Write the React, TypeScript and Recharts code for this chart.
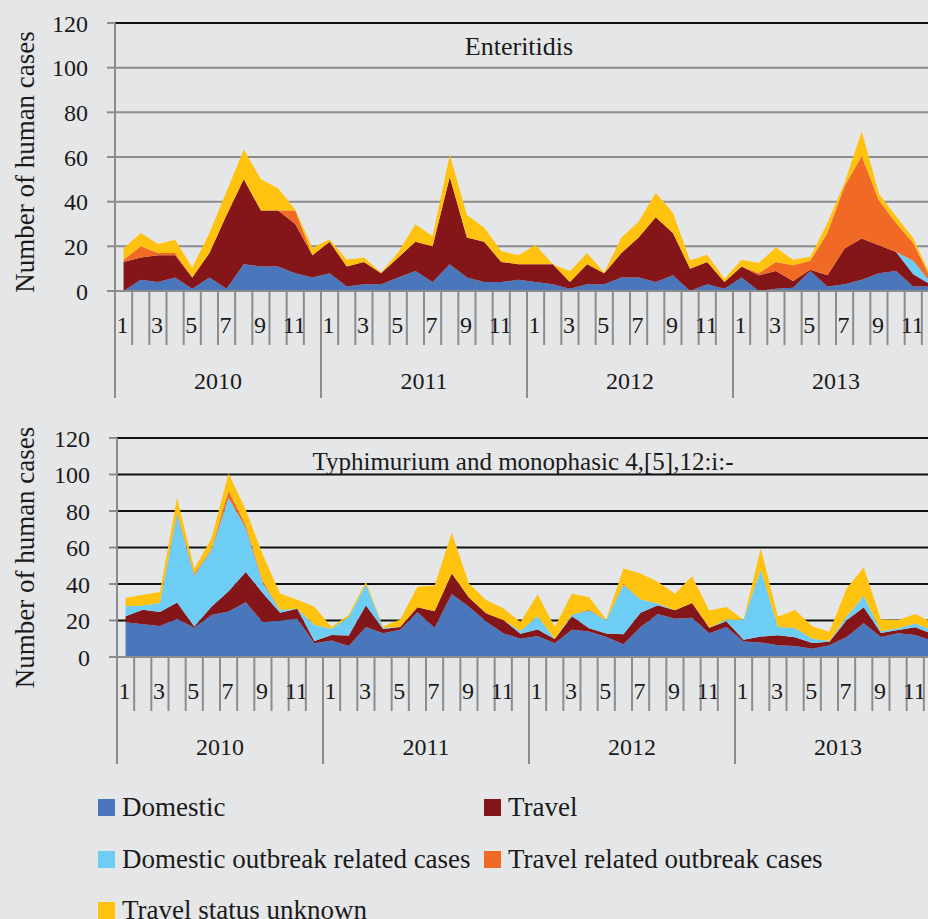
import React from "react";
import {
  AreaChart,
  Area,
  XAxis,
  YAxis,
  CartesianGrid,
  ReferenceLine,
} from "recharts";

const YEARS = [2010, 2011, 2012, 2013];
const MONTHS = [1, 2, 3, 4, 5, 6, 7, 8, 9, 10, 11, 12];
const Y_TICKS = [0, 20, 40, 60, 80, 100, 120];

// Enteritidis, Jan 2010 - Dec 2013
const ENT_DOMESTIC = [
  0, 5, 4, 6, 1, 6, 1, 12, 11, 11, 8, 6,
  8, 2, 3, 3, 6, 9, 4, 12, 6, 4, 4, 5,
  4, 3, 1, 3, 3, 6, 6, 4, 7, 0, 3, 1,
  6, 0, 1, 1.5, 9, 2, 3, 5, 8, 9, 2, 2,
];
const ENT_TRAVEL = [
  13, 10, 12, 10, 5, 11, 33, 38, 25, 25, 22, 10,
  14, 9, 10, 5, 9, 13, 16, 39, 18, 18, 9, 7,
  8, 9, 3, 9, 5, 11, 18, 29, 19, 10, 10, 3,
  5, 7, 8, 3, 0.5, 5, 16, 18.5, 12.5, 8.5, 5.5, 1,
];
const ENT_DOM_OUTBREAK = [
  0, 0, 0, 0, 0, 0, 0, 0, 0, 0, 0, 0,
  0, 0, 0, 0, 0, 0, 0, 0, 0, 0, 0, 0,
  0, 0, 0, 0, 0, 0, 0, 0, 0, 0, 0, 0,
  0, 0, 0, 0, 0, 0, 0, 0, 0, 0, 6, 1,
];
const ENT_TRAVEL_OUTBREAK = [
  1, 5, 1, 1, 0, 0, 0, 0, 0, 0, 6, 0,
  0, 0, 0, 0, 0, 0, 0, 0, 0, 0, 0, 0,
  0, 0, 0, 0, 0, 0, 0, 0, 0, 0, 0, 0,
  0, 1, 4, 7, 4, 19, 28, 37, 20, 13, 8, 2,
];
const ENT_UNKNOWN = [
  5, 6, 4, 6, 4.5, 9, 10.5, 13.4, 14, 10, 0.5, 3.3,
  1.2, 3, 2, 0.3, 2.3, 7.9, 4.5, 10, 10, 6.4, 4.9, 4,
  8.6, 0, 4.8, 5, 0.3, 7, 7, 11, 9, 3.7, 3.2, 1.5,
  3, 4.5, 6.5, 2.5, 1.8, 4.5, 1.5, 11, 3, 3, 2.2, 1,
];

// Typhimurium and monophasic 4,[5],12:i:-
const TYP_DOMESTIC = [
  19, 18, 17, 21, 16, 23, 25, 30, 19, 20, 21, 7.5,
  9, 6, 16.5, 13, 15, 24.5, 16, 34.5, 27.5, 19.5, 13, 10,
  11.5, 7.5, 15, 14, 11, 7, 16.5, 23.5, 21, 21.5, 13, 16.5,
  8.5, 8, 6.5, 6, 4.5, 6.5, 11, 18.5, 11, 13, 12, 9,
];
const TYP_TRAVEL = [
  3.3, 7.9, 7.6, 8.8, 0.7, 4.6, 11, 16.6, 15.9, 4.2, 5.5, 1.3,
  3, 5.8, 11.9, 2.4, 1.5, 2.7, 9.1, 11.3, 5.1, 4.5, 7.3, 2.8,
  3.6, 2.4, 7.3, 1.8, 1.9, 5.5, 7.7, 4.9, 4.6, 8.1, 3, 3.1,
  0.9, 3.2, 5.4, 4.8, 3.2, 1.8, 9.2, 8.8, 2.2, 1.8, 4.3, 3.6,
];
const TYP_DOM_OUTBREAK = [
  5.5, 2.3, 5, 48.4, 27.9, 31, 51.1, 24.1, 5.5, 1.5, 0, 8.7,
  3.5, 10.1, 11.5, 0.6, 0, 0, 0, 0, 0, 0, 0, 1.5,
  7.2, 0, 0.9, 9.7, 7.3, 26.9, 7.3, 0.9, 0, 0, 0, 0.9,
  11, 36.6, 4.6, 4.9, 2.3, 0.5, 1.8, 6.2, 0.9, 1, 2.1, 2,
];
const TYP_TRAVEL_OUTBREAK = [
  0, 0, 0, 1, 1, 0.5, 4, 1.5, 1, 0, 0, 0,
  0, 0, 0, 0, 0, 0, 0, 0, 0, 0, 0, 0,
  0, 0, 0, 0.5, 0, 0.5, 0, 0, 0, 0, 0, 0,
  0, 0, 0, 0.3, 0, 0, 0, 0, 0, 0, 0, 0,
];
const TYP_UNKNOWN = [
  4.5, 5.9, 6, 8.1, 2.7, 5.9, 9.4, 8.5, 14.5, 9.1, 4.9, 10.1,
  1, 1.3, 1.3, 0.7, 4, 11.3, 14.1, 22.3, 7.7, 7.3, 6.4, 4.9,
  12, 6.7, 11.5, 6.8, 0.3, 8.6, 14.2, 11.9, 9.1, 14.6, 9.5, 6.9,
  0, 11.8, 5.5, 9.8, 6.8, 5, 15.5, 15.7, 6.4, 4.5, 5.2, 4.3,
];

const SERIES = [
  { key: "dom", name: "Domestic", color: "#4a77bb" },
  { key: "travel", name: "Travel", color: "#84161a" },
  { key: "domOut", name: "Domestic outbreak related cases", color: "#6dcdf4" },
  { key: "travOut", name: "Travel related outbreak cases", color: "#f06a25" },
  { key: "unknown", name: "Travel status unknown", color: "#ffc20f" },
];

function buildRows(cols: number[][]) {
  const rows: any[] = [];
  YEARS.forEach((y, yi) => {
    MONTHS.forEach((m, mi) => {
      const i = yi * 12 + mi;
      const row: any = { label: `${y}-${m}`, year: y, month: m };
      SERIES.forEach((s, si) => (row[s.key] = cols[si][i]));
      rows.push(row);
    });
  });
  return rows;
}

const entRows = buildRows([ENT_DOMESTIC, ENT_TRAVEL, ENT_DOM_OUTBREAK, ENT_TRAVEL_OUTBREAK, ENT_UNKNOWN]);
const typRows = buildRows([TYP_DOMESTIC, TYP_TRAVEL, TYP_DOM_OUTBREAK, TYP_TRAVEL_OUTBREAK, TYP_UNKNOWN]);

const FONT = '"Liberation Serif", "DejaVu Serif", serif';
const TEXT = "#1a1a1a";
const AXIS_GRAY = "#8c8c8c";
const BG = "#e5e6e8";
const PLOT_W = 824;
const HALF = PLOT_W / 96; // half a month slot

function MonthTick(props: any) {
  const { x, y, index } = props;
  const row = entRows[index];
  const bx = x - HALF;
  return (
    <g>
      <line x1={bx} y1={y} x2={bx} y2={y + (row.month === 1 ? 107 : 54)} stroke={AXIS_GRAY} strokeWidth={2} />
      {row.month % 2 === 1 && (
        <text x={x - 1} y={y + 42} textAnchor="middle" fontSize={24} fontFamily={FONT} fill={TEXT}>
          {row.month}
        </text>
      )}
      {row.month === 7 && (
        <text x={bx} y={y + 98} textAnchor="middle" fontSize={24} fontFamily={FONT} fill={TEXT}>
          {row.year}
        </text>
      )}
    </g>
  );
}

function YLabel(props: any) {
  const { viewBox, shift } = props;
  const cx = 25;
  const cy = viewBox.y + viewBox.height / 2 + shift;
  return (
    <text
      x={cx}
      y={cy}
      transform={`rotate(-90 ${cx} ${cy})`}
      textAnchor="middle"
      dominantBaseline="central"
      fontSize={27}
      fontFamily={FONT}
      fill={TEXT}
    >
      Number of human cases
    </text>
  );
}

function Panel({ rows, yWidth, gridColor, topLine, labelShift }: any) {
  return (
    <AreaChart
      width={yWidth + PLOT_W + 1}
      height={23 + (topLine ? 268 : 219) + 119}
      data={rows}
      margin={{ top: 23, right: 1, left: 0, bottom: 0 }}
    >
      <CartesianGrid vertical={false} stroke={gridColor} strokeWidth={2} strokeOpacity={1} />
      <XAxis
        dataKey="label"
        interval={0}
        tickLine={false}
        tickSize={0}
        tickMargin={0}
        height={119}
        padding={{ left: HALF, right: HALF }}
        axisLine={{ stroke: AXIS_GRAY, strokeWidth: 2 }}
        tick={<MonthTick />}
      />
      <YAxis
        width={yWidth}
        domain={[0, 120]}
        ticks={Y_TICKS}
        interval={0}
        tickSize={8}
        tickMargin={19}
        tickLine={{ stroke: AXIS_GRAY, strokeWidth: 2 }}
        axisLine={{ stroke: AXIS_GRAY, strokeWidth: 2 }}
        tick={{ fontSize: 24, fontFamily: FONT, fill: TEXT }}
        label={<YLabel shift={labelShift} />}
      />
      {topLine && <ReferenceLine y={120} stroke="#111" strokeWidth={2} />}
      {SERIES.map((s) => (
        <Area
          key={s.key}
          type="linear"
          dataKey={s.key}
          name={s.name}
          stackId="1"
          stroke="none"
          fill={s.color}
          fillOpacity={1}
          dot={false}
          activeDot={false}
          isAnimationActive={false}
        />
      ))}
      <ReferenceLine y={0} stroke={AXIS_GRAY} strokeWidth={2} />
    </AreaChart>
  );
}

const titleStyle: React.CSSProperties = {
  position: "absolute",
  fontSize: 26,
  lineHeight: "26px",
  fontFamily: FONT,
  color: TEXT,
  whiteSpace: "nowrap",
  transform: "translateX(-50%)",
};

const LEGEND_POS = [
  { left: 98, top: 799 },
  { left: 484, top: 799 },
  { left: 98, top: 851 },
  { left: 484, top: 851 },
  { left: 98, top: 902 },
];

export default function App() {
  return (
    <div
      style={{
        position: "fixed",
        left: 0,
        top: 0,
        width: 928,
        height: 919,
        overflow: "hidden",
        background: BG,
        fontFamily: FONT,
      }}
    >
      <div style={{ position: "absolute", left: 0, top: 0 }}>
        <Panel rows={entRows} yWidth={115} gridColor={AXIS_GRAY} topLine labelShift={5} />
      </div>
      <div style={{ position: "absolute", left: 0, top: 415 }}>
        <Panel rows={typRows} yWidth={117} gridColor="#111" topLine={false} labelShift={10} />
      </div>
      <div style={{ ...titleStyle, left: 519, top: 34 }}>Enteritidis</div>
      <div style={{ ...titleStyle, left: 523, top: 449, fontSize: 25 }}>Typhimurium and monophasic 4,[5],12:i:-</div>
      {SERIES.map((s, i) => (
        <div key={s.key} style={{ position: "absolute", left: LEGEND_POS[i].left, top: LEGEND_POS[i].top, display: "flex", alignItems: "center" }}>
          <div style={{ width: 17, height: 17, background: s.color }} />
          <div style={{ marginLeft: 7, fontSize: 27, lineHeight: "17px", color: TEXT, whiteSpace: "nowrap" }}>{s.name}</div>
        </div>
      ))}
    </div>
  );
}
